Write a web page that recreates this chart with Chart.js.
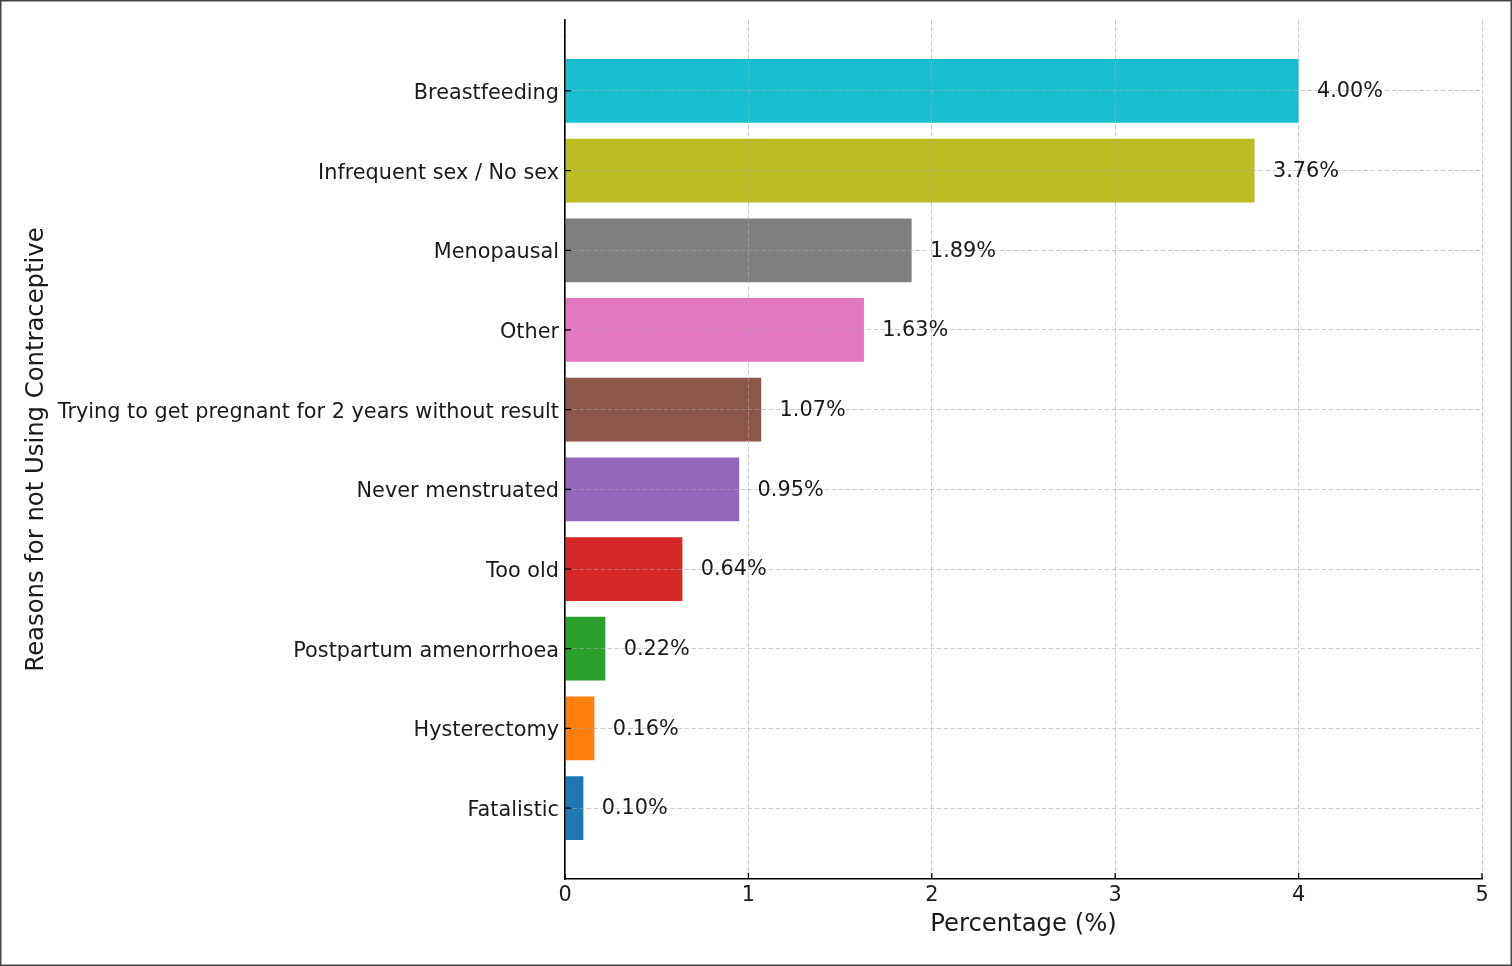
<!DOCTYPE html>
<html>
<head>
<meta charset="utf-8">
<script src="https://cdn.jsdelivr.net/npm/chart.js@4.4.1/dist/chart.umd.min.js"></script>
<style>
  html, body { margin: 0; padding: 0; background: #fff; }
  #wrap { position: relative; width: 1512px; height: 966px; }
</style>
</head>
<body>
<div id="wrap"><canvas id="chart"></canvas></div>
<script>
// listed bottom to top, the way they are plotted
const reasons = [
  'Fatalistic',
  'Hysterectomy',
  'Postpartum amenorrhoea',
  'Too old',
  'Never menstruated',
  'Trying to get pregnant for 2 years without result',
  'Other',
  'Menopausal',
  'Infrequent sex / No sex',
  'Breastfeeding',
];
const percentages = [0.10, 0.16, 0.22, 0.64, 0.95, 1.07, 1.63, 1.89, 3.76, 4.00];
const barColors = [
  '#1f77b4', '#ff7f0e', '#2ca02c', '#d62728', '#9467bd',
  '#8c564b', '#e377c2', '#7f7f7f', '#bcbd22', '#17becf',
];
const xTicks = [0, 1, 2, 3, 4, 5];

const FONT = 'DejaVu Sans';
const TEXT = '#1a1a1a';
const TICK_SIZE = 20.8;

// white background and the thin frame round the picture
const framePlugin = {
  id: 'frame',
  beforeDraw(chart) {
    const { ctx, width, height } = chart;
    ctx.save();
    ctx.fillStyle = '#fff';
    ctx.fillRect(0, 0, width, height);
    ctx.restore();
  },
  afterDraw(chart) {
    const { ctx, width, height } = chart;
    ctx.save();
    ctx.strokeStyle = '#444';
    ctx.lineWidth = 1.5;
    ctx.strokeRect(0.75, 0.75, width - 1.5, height - 1.5);
    ctx.restore();
  },
};

// matplotlib style ticks pointing into the axes
const innerTicksPlugin = {
  id: 'innerTicks',
  afterDraw(chart) {
    const { ctx, scales: { x, y }, chartArea } = chart;
    ctx.save();
    ctx.strokeStyle = '#000';
    ctx.lineWidth = 1.3;
    ctx.beginPath();
    xTicks.forEach((v) => {
      const px = x.getPixelForValue(v);
      ctx.moveTo(px, chartArea.bottom);
      ctx.lineTo(px, chartArea.bottom - 6);
    });
    reasons.forEach((_, i) => {
      const py = y.getPixelForValue(i);
      ctx.moveTo(chartArea.left, py);
      ctx.lineTo(chartArea.left + 6, py);
    });
    ctx.stroke();
    ctx.restore();
  },
};

// percentage text to the right of each bar
const valueLabelsPlugin = {
  id: 'valueLabels',
  afterDraw(chart) {
    const { ctx, scales: { x, y } } = chart;
    ctx.save();
    ctx.font = `${TICK_SIZE}px "${FONT}"`;
    ctx.fillStyle = TEXT;
    ctx.textAlign = 'left';
    ctx.textBaseline = 'middle';
    percentages.forEach((v, i) => {
      ctx.fillText(v.toFixed(2) + '%', x.getPixelForValue(v + 0.1), y.getPixelForValue(i) + 1);
    });
    ctx.restore();
  },
};

const gridStyle = {
  color: 'rgba(170, 170, 170, 0.6)',
  lineWidth: 1,
  z: 1,
  offset: false,
  drawTicks: false,
};
const borderStyle = { display: true, color: '#000', width: 1.6, dash: [4.5, 2.5], z: 2 };

new Chart(document.getElementById('chart'), {
  type: 'bar',
  data: {
    datasets: [
      {
        data: percentages.map((v, i) => ({ x: v, y: i })),
        backgroundColor: barColors,
        borderWidth: 0,
        barPercentage: 0.8,
        categoryPercentage: 1,
      },
    ],
  },
  options: {
    indexAxis: 'y',
    responsive: true,
    maintainAspectRatio: false,
    animation: false,
    layout: { padding: { top: 20, right: 30, left: 0, bottom: 0 } },
    plugins: {
      legend: { display: false },
      tooltip: { enabled: false },
    },
    scales: {
      x: {
        type: 'linear',
        position: 'bottom',
        min: 0,
        max: 5,
        afterBuildTicks: (scale) => {
          scale.ticks = xTicks.map((v) => ({ value: v }));
        },
        afterFit: (scale) => {
          scale.height = 87;
        },
        grid: gridStyle,
        border: borderStyle,
        ticks: {
          color: TEXT,
          padding: 4,
          font: { family: FONT, size: TICK_SIZE },
        },
        title: {
          display: true,
          text: 'Percentage (%)',
          color: TEXT,
          font: { family: FONT, size: 24.3 },
          padding: { top: 0, bottom: 27 },
        },
      },
      y: {
        type: 'linear',
        position: 'left',
        offset: false,
        min: -0.89,
        max: 9.89,
        afterBuildTicks: (scale) => {
          scale.ticks = reasons.map((_, i) => ({ value: i }));
        },
        afterFit: (scale) => {
          scale.width = 565;
        },
        grid: gridStyle,
        border: borderStyle,
        ticks: {
          color: TEXT,
          padding: 6,
          labelOffset: 2.5,
          autoSkip: false,
          font: { family: FONT, size: TICK_SIZE },
          callback: (value) => reasons[value],
        },
        title: {
          display: true,
          text: 'Reasons for not Using Contraceptive',
          color: TEXT,
          font: { family: FONT, size: 24.3 },
          padding: { top: 22, bottom: 0 },
        },
      },
    },
  },
  plugins: [framePlugin, innerTicksPlugin, valueLabelsPlugin],
});
</script>
</body>
</html>
